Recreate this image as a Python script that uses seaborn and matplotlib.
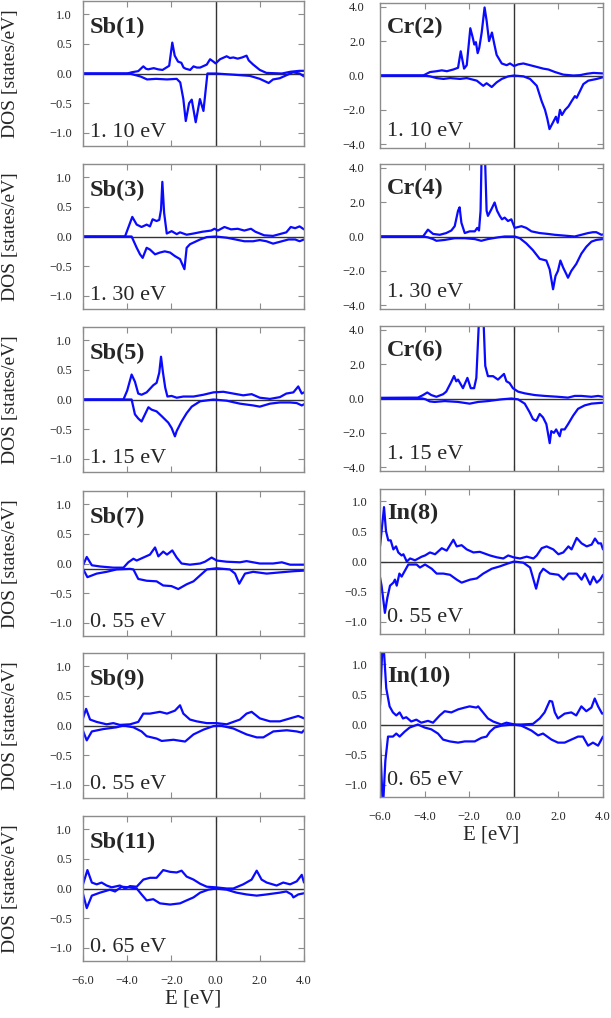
import matplotlib
matplotlib.use("Agg")
import matplotlib.pyplot as plt
import seaborn as sns

# ---- data: (E [eV], DOS [states/eV]) knots ----
sb1_up = [(-6.0, 0.0), (-4.0, 0.0), (-3.8, 0.02), (-3.5, 0.04), (-3.27, 0.12), (-3.15, 0.08), (-3.05, 0.07),
          (-2.8, 0.09), (-2.6, 0.07), (-2.4, 0.06), (-2.1, 0.13), (-1.96, 0.52), (-1.9, 0.4), (-1.85, 0.3),
          (-1.7, 0.2), (-1.55, 0.18), (-1.45, 0.1), (-1.35, 0.08), (-1.15, 0.06), (-1.0, 0.12), (-0.85, 0.1),
          (-0.7, 0.1), (-0.4, 0.15), (-0.25, 0.24), (-0.1, 0.2), (0.0, 0.17), (0.2, 0.24), (0.5, 0.29),
          (0.65, 0.26), (0.8, 0.27), (1.0, 0.25), (1.2, 0.27), (1.4, 0.3), (1.5, 0.22), (1.7, 0.15),
          (2.0, 0.06), (2.3, 0.01), (3.0, 0.0), (3.4, 0.03), (3.8, 0.045), (4.0, 0.045)]
sb1_dn = [(-6.0, 0.0), (-3.9, 0.0), (-3.4, -0.05), (-3.1, -0.1), (-2.7, -0.09), (-2.2, -0.1), (-1.76, -0.09),
          (-1.6, -0.15), (-1.46, -0.43), (-1.35, -0.8), (-1.2, -0.5), (-1.08, -0.44), (-0.9, -0.82),
          (-0.71, -0.43), (-0.55, -0.63), (-0.37, 0.0), (0.0, 0.0), (0.8, -0.02), (1.55, -0.04), (2.0, -0.09),
          (2.4, -0.16), (2.6, -0.1), (2.9, -0.08), (3.2, -0.03), (3.5, 0.02), (3.8, 0.0), (4.0, -0.05)]

sb3_up = [(-6.0, 0.0), (-4.1, 0.0), (-3.9, 0.2), (-3.77, 0.33), (-3.57, 0.2), (-3.35, 0.16), (-3.12, 0.2),
          (-2.97, 0.17), (-2.85, 0.29), (-2.67, 0.26), (-2.55, 0.28), (-2.47, 0.45), (-2.41, 0.92),
          (-2.33, 0.4), (-2.21, 0.05), (-1.99, 0.09), (-1.76, 0.04), (-1.61, 0.07), (-1.31, 0.03),
          (-1.0, 0.05), (-0.6, 0.08), (-0.2, 0.1), (-0.05, 0.13), (0.1, 0.1), (0.4, 0.16), (0.7, 0.12),
          (1.0, 0.13), (1.3, 0.1), (1.6, 0.13), (1.8, 0.08), (2.2, 0.02), (2.6, 0.01), (3.0, 0.05),
          (3.2, 0.07), (3.4, 0.16), (3.6, 0.14), (3.8, 0.17), (4.0, 0.12)]
sb3_dn = [(-6.0, 0.0), (-3.8, 0.0), (-3.57, -0.19), (-3.42, -0.3), (-3.3, -0.36), (-3.12, -0.19),
          (-2.97, -0.22), (-2.74, -0.3), (-2.52, -0.27), (-2.3, -0.25), (-2.06, -0.27), (-1.84, -0.33),
          (-1.61, -0.38), (-1.41, -0.55), (-1.31, -0.19), (-1.16, -0.13), (-0.93, -0.09), (-0.7, -0.05),
          (-0.4, -0.01), (0.0, 0.0), (0.5, -0.02), (0.9, -0.05), (1.3, -0.08), (1.7, -0.08), (2.0, -0.06),
          (2.3, -0.08), (2.6, -0.12), (3.0, -0.08), (3.3, -0.05), (3.6, -0.05), (3.8, -0.08), (4.0, -0.05)]

sb5_up = [(-6.0, 0.0), (-4.17, 0.0), (-4.0, 0.15), (-3.8, 0.42), (-3.65, 0.3), (-3.5, 0.1), (-3.35, 0.08),
          (-3.12, 0.12), (-2.82, 0.24), (-2.67, 0.28), (-2.55, 0.45), (-2.47, 0.72), (-2.38, 0.45),
          (-2.28, 0.2), (-2.18, 0.05), (-1.99, 0.06), (-1.76, 0.03), (-1.46, 0.05), (-1.0, 0.05),
          (-0.55, 0.08), (-0.1, 0.12), (0.35, 0.13), (0.8, 0.1), (1.25, 0.07), (1.63, 0.09), (2.0, 0.03),
          (2.46, 0.01), (2.91, 0.04), (3.2, 0.1), (3.52, 0.12), (3.74, 0.22), (3.9, 0.1), (4.0, 0.12)]
sb5_dn = [(-6.0, 0.0), (-3.8, 0.0), (-3.65, -0.25), (-3.5, -0.32), (-3.35, -0.37), (-3.04, -0.13),
          (-2.9, -0.17), (-2.67, -0.2), (-2.44, -0.28), (-2.14, -0.39), (-1.99, -0.48), (-1.84, -0.62),
          (-1.76, -0.53), (-1.54, -0.37), (-1.31, -0.23), (-1.08, -0.12), (-0.7, -0.03), (-0.1, 0.0),
          (0.5, -0.02), (1.1, -0.07), (1.7, -0.1), (2.0, -0.12), (2.46, -0.07), (2.91, -0.05), (3.37, -0.05),
          (3.67, -0.06), (3.9, -0.1), (4.0, -0.08)]

sb7_up = [(-6.0, -0.03), (-5.83, 0.11), (-5.6, -0.03), (-5.23, -0.05), (-4.63, -0.07), (-4.17, -0.07),
          (-3.95, 0.02), (-3.72, 0.08), (-3.57, 0.05), (-3.27, 0.1), (-2.97, 0.15), (-2.74, 0.27),
          (-2.59, 0.12), (-2.37, 0.2), (-2.2, 0.15), (-1.96, 0.22), (-1.76, 0.1), (-1.54, 0.0),
          (-1.16, -0.02), (-0.7, 0.0), (-0.48, 0.03), (-0.18, 0.1), (0.05, 0.05), (0.5, 0.03), (1.1, 0.02),
          (1.4, 0.04), (2.0, 0.0), (2.6, 0.0), (3.0, 0.02), (3.37, -0.02), (4.0, -0.02)]
sb7_dn = [(-6.0, -0.09), (-5.8, -0.23), (-5.38, -0.17), (-4.93, -0.14), (-4.48, -0.1), (-3.87, -0.09),
          (-3.72, -0.1), (-3.5, -0.26), (-3.12, -0.29), (-2.67, -0.3), (-2.37, -0.37), (-2.0, -0.38),
          (-1.69, -0.43), (-1.31, -0.35), (-1.0, -0.3), (-0.7, -0.2), (-0.4, -0.1), (0.05, -0.08),
          (0.65, -0.1), (0.88, -0.17), (1.07, -0.34), (1.33, -0.17), (1.7, -0.14), (2.31, -0.17),
          (2.9, -0.15), (3.52, -0.13), (4.0, -0.12)]

sb9_up = [(-6.0, 0.12), (-5.86, 0.28), (-5.68, 0.1), (-5.38, 0.06), (-4.93, 0.02), (-4.63, 0.04),
          (-4.33, 0.01), (-3.87, 0.02), (-3.5, 0.06), (-3.27, 0.2), (-2.97, 0.2), (-2.52, 0.23), (-2.2, 0.2),
          (-1.84, 0.25), (-1.61, 0.34), (-1.46, 0.2), (-1.16, 0.1), (-0.86, 0.07), (-0.4, 0.04), (0.05, 0.04),
          (0.5, 0.02), (1.1, 0.1), (1.4, 0.2), (1.63, 0.23), (2.0, 0.12), (2.46, 0.07), (2.91, 0.07),
          (3.37, 0.12), (3.74, 0.16), (4.0, 0.12)]
sb9_dn = [(-6.0, -0.09), (-5.83, -0.25), (-5.6, -0.1), (-5.08, -0.06), (-4.48, -0.03), (-4.17, 0.0),
          (-3.72, -0.03), (-3.35, -0.1), (-3.12, -0.18), (-2.67, -0.22), (-2.44, -0.26), (-1.91, -0.24),
          (-1.38, -0.27), (-1.0, -0.15), (-0.55, -0.07), (-0.1, -0.01), (0.2, 0.0), (0.8, -0.05), (1.4, -0.15),
          (1.86, -0.2), (2.16, -0.2), (2.61, -0.1), (3.22, -0.08), (3.67, -0.1), (3.9, -0.12), (4.0, -0.08)]

sb11_up = [(-6.0, 0.07), (-5.8, 0.31), (-5.6, 0.1), (-5.38, 0.07), (-5.16, 0.1), (-4.93, 0.05), (-4.7, 0.02),
           (-4.33, 0.05), (-4.1, 0.0), (-3.87, 0.04), (-3.57, 0.03), (-3.27, 0.15), (-2.97, 0.18),
           (-2.67, 0.18), (-2.37, 0.31), (-2.06, 0.28), (-1.76, 0.27), (-1.54, 0.3), (-1.31, 0.2), (-1.0, 0.15),
           (-0.7, 0.08), (-0.4, 0.03), (0.0, 0.02), (0.5, 0.0), (0.8, 0.0), (1.25, 0.07), (1.63, 0.15),
           (1.86, 0.3), (2.08, 0.15), (2.31, 0.1), (2.76, 0.05), (3.06, 0.1), (3.37, 0.07), (3.67, 0.12),
           (3.9, 0.23), (4.0, 0.1)]
sb11_dn = [(-6.0, -0.09), (-5.83, -0.33), (-5.6, -0.12), (-5.23, -0.07), (-4.78, -0.02), (-4.55, -0.05),
           (-4.25, 0.03), (-3.95, 0.02), (-3.57, 0.0), (-3.35, -0.1), (-3.12, -0.2), (-2.82, -0.18),
           (-2.52, -0.25), (-2.06, -0.27), (-1.61, -0.25), (-1.31, -0.2), (-1.0, -0.15), (-0.7, -0.07),
           (-0.33, -0.02), (0.0, 0.0), (0.5, -0.02), (0.95, -0.07), (1.4, -0.1), (1.86, -0.12), (2.31, -0.1),
           (2.9, -0.07), (3.2, -0.05), (3.44, -0.1), (3.52, -0.15), (3.74, -0.1), (4.0, -0.08)]

cr2_up = [(-6.0, 0.0), (-4.06, 0.0), (-3.76, 0.2), (-3.46, 0.25), (-3.23, 0.3), (-3.0, 0.25), (-2.71, 0.35),
          (-2.5, 0.45), (-2.38, 1.41), (-2.23, 0.4), (-2.11, 0.6), (-1.95, 2.75), (-1.84, 2.2), (-1.77, 1.8),
          (-1.7, 1.94), (-1.62, 1.3), (-1.55, 1.6), (-1.44, 2.5), (-1.31, 3.96), (-1.22, 3.2), (-1.11, 2.0),
          (-0.98, 2.5), (-0.87, 1.8), (-0.77, 1.2), (-0.54, 0.7), (-0.32, 0.6), (-0.17, 0.7), (0.01, 0.55),
          (0.2, 0.65), (0.43, 0.7), (0.73, 0.6), (1.03, 0.5), (1.32, 0.4), (1.55, 0.35), (1.85, 0.2),
          (2.22, 0.05), (2.67, 0.0), (2.97, 0.02), (3.27, 0.1), (3.57, 0.15), (4.0, 0.12)]
cr2_dn = [(-6.0, 0.0), (-4.06, 0.0), (-3.76, -0.05), (-3.46, -0.15), (-3.16, -0.2), (-2.86, -0.15),
          (-2.41, -0.2), (-2.11, -0.15), (-1.66, -0.3), (-1.37, -0.6), (-1.22, -0.45), (-0.99, -0.67),
          (-0.77, -0.4), (-0.54, -0.2), (-0.25, -0.05), (0.01, 0.0), (0.43, -0.05), (0.73, -0.2), (1.03, -0.6),
          (1.25, -1.5), (1.4, -2.0), (1.5, -2.5), (1.6, -3.12), (1.77, -2.7), (1.89, -2.4), (1.97, -2.75),
          (2.07, -2.0), (2.16, -2.3), (2.3, -2.0), (2.45, -1.8), (2.59, -1.5), (2.74, -1.2), (2.82, -1.3),
          (2.97, -0.9), (3.12, -0.5), (3.34, -0.3), (3.72, -0.2), (4.0, -0.1)]

cr4_up = [(-6.0, 0.0), (-4.07, 0.0), (-3.85, 0.4), (-3.62, 0.15), (-3.32, 0.1), (-3.03, 0.2), (-2.8, 0.35),
          (-2.65, 0.6), (-2.5, 1.5), (-2.43, 1.7), (-2.35, 0.8), (-2.2, 0.2), (-1.98, 0.3), (-1.75, 0.3),
          (-1.64, 0.5), (-1.56, 0.35), (-1.49, 1.5), (-1.44, 5.0), (-1.3, 5.0), (-1.22, 1.5), (-1.16, 1.2),
          (-1.0, 1.6), (-0.86, 1.98), (-0.75, 1.5), (-0.63, 1.2), (-0.53, 1.0), (-0.41, 1.1), (-0.26, 0.9),
          (-0.11, 1.0), (0.04, 0.5), (0.34, 0.6), (0.56, 0.5), (0.79, 0.3), (1.16, 0.2), (1.53, 0.15),
          (1.83, 0.1), (2.28, 0.05), (2.73, 0.0), (3.03, 0.1), (3.33, 0.2), (3.55, 0.25), (3.7, 0.25),
          (3.93, 0.1), (4.0, 0.12)]
cr4_dn = [(-6.0, 0.0), (-4.07, 0.0), (-3.85, -0.05), (-3.62, -0.15), (-3.47, -0.25), (-3.1, -0.2),
          (-2.65, -0.1), (-2.2, -0.1), (-1.75, -0.15), (-1.46, -0.25), (-1.16, -0.15), (-0.71, -0.05),
          (-0.41, 0.0), (0.04, 0.0), (0.27, -0.1), (0.56, -0.4), (0.86, -0.8), (1.16, -1.3), (1.46, -1.4),
          (1.61, -1.92), (1.76, -3.07), (1.87, -2.3), (1.98, -2.0), (2.09, -1.4), (2.21, -1.8), (2.36, -2.2),
          (2.43, -2.4), (2.58, -2.0), (2.8, -1.6), (3.03, -1.0), (3.25, -0.6), (3.48, -0.3), (3.7, -0.2),
          (4.0, -0.15)]

cr6_up = [(-6.0, 0.04), (-4.6, 0.05), (-4.3, 0.05), (-4.07, 0.2), (-3.88, 0.35), (-3.7, 0.2), (-3.47, 0.1),
          (-3.17, 0.25), (-3.03, 0.4), (-2.83, 0.9), (-2.68, 1.31), (-2.58, 1.0), (-2.5, 1.1), (-2.28, 0.6),
          (-2.08, 1.2), (-1.93, 0.6), (-1.78, 0.6), (-1.68, 1.2), (-1.56, 4.6), (-1.36, 4.6), (-1.28, 1.9),
          (-1.16, 1.3), (-0.93, 1.3), (-0.71, 1.1), (-0.44, 1.43), (-0.33, 1.0), (-0.19, 0.9), (-0.04, 0.6),
          (0.19, 0.4), (0.49, 0.3), (0.94, 0.2), (1.38, 0.15), (1.98, 0.1), (2.43, 0.05), (2.73, 0.15),
          (3.03, 0.15), (3.48, 0.1), (3.78, 0.15), (4.0, 0.1)]
cr6_dn = [(-6.0, 0.0), (-4.1, 0.0), (-3.95, -0.05), (-3.77, -0.17), (-3.55, -0.2), (-3.1, -0.15),
          (-2.5, -0.2), (-1.98, -0.3), (-1.6, -0.2), (-1.16, -0.15), (-0.56, -0.05), (-0.11, 0.0),
          (0.19, -0.05), (0.49, -0.3), (0.71, -0.8), (0.86, -1.2), (1.01, -1.3), (1.16, -0.9), (1.31, -1.1),
          (1.46, -1.49), (1.53, -2.0), (1.61, -2.6), (1.68, -1.9), (1.8, -2.0), (1.9, -1.8), (2.06, -2.2),
          (2.13, -1.8), (2.28, -1.8), (2.43, -1.5), (2.66, -1.0), (2.88, -0.6), (3.18, -0.4), (3.48, -0.3),
          (3.93, -0.25), (4.0, -0.25)]

in8_up = [(-6.0, 0.25), (-5.93, 0.5), (-5.82, 0.9), (-5.73, 0.5), (-5.63, 0.35), (-5.52, 0.35), (-5.4, 0.2),
          (-5.28, 0.25), (-5.18, 0.15), (-5.03, 0.1), (-4.95, 0.12), (-4.8, 0.0), (-4.65, 0.05), (-4.43, 0.02),
          (-4.13, 0.08), (-3.98, 0.1), (-3.76, 0.15), (-3.53, 0.12), (-3.23, 0.22), (-3.01, 0.18),
          (-2.71, 0.36), (-2.56, 0.25), (-2.34, 0.27), (-2.11, 0.2), (-1.81, 0.15), (-1.52, 0.16),
          (-1.07, 0.1), (-0.77, 0.07), (-0.47, 0.05), (-0.25, 0.1), (-0.02, 0.07), (0.28, 0.05), (0.58, 0.08),
          (0.88, 0.05), (1.03, 0.1), (1.25, 0.22), (1.47, 0.25), (1.77, 0.2), (2.0, 0.12), (2.22, 0.15),
          (2.45, 0.25), (2.59, 0.2), (2.82, 0.39), (3.04, 0.3), (3.27, 0.25), (3.49, 0.28), (3.64, 0.38),
          (3.79, 0.3), (3.91, 0.3), (4.0, 0.2)]
in8_dn = [(-6.0, -0.26), (-5.93, -0.4), (-5.78, -0.85), (-5.67, -0.6), (-5.55, -0.4), (-5.4, -0.35),
          (-5.33, -0.3), (-5.25, -0.4), (-5.13, -0.2), (-5.03, -0.25), (-4.88, -0.15), (-4.73, -0.05),
          (-4.36, -0.05), (-4.21, -0.1), (-3.98, -0.05), (-3.68, -0.12), (-3.46, -0.2), (-3.16, -0.2),
          (-2.86, -0.22), (-2.56, -0.3), (-2.34, -0.35), (-1.96, -0.3), (-1.66, -0.28), (-1.37, -0.2),
          (-0.99, -0.12), (-0.62, -0.08), (-0.32, -0.04), (0.01, 0.0), (0.43, -0.02), (0.73, -0.1),
          (1.0, -0.45), (1.17, -0.2), (1.32, -0.12), (1.62, -0.2), (2.0, -0.22), (2.22, -0.3), (2.45, -0.2),
          (2.82, -0.2), (3.04, -0.3), (3.19, -0.2), (3.42, -0.38), (3.57, -0.25), (3.72, -0.35), (3.87, -0.3),
          (4.0, -0.22)]

in10_up = [(-6.0, 0.32), (-5.87, 1.5), (-5.72, 0.6), (-5.57, 0.3), (-5.42, 0.2), (-5.27, 0.15), (-5.12, 0.2),
           (-4.97, 0.1), (-4.82, 0.12), (-4.6, 0.05), (-4.37, 0.08), (-4.15, 0.03), (-3.85, 0.06), (-3.62, 0.03),
           (-3.32, 0.15), (-3.1, 0.22), (-2.8, 0.2), (-2.5, 0.25), (-2.2, 0.28), (-1.98, 0.3), (-1.68, 0.28),
           (-1.6, 0.3), (-1.38, 0.2), (-1.16, 0.1), (-0.93, 0.05), (-0.56, 0.0), (-0.33, 0.03), (0.04, 0.0),
           (0.34, 0.0), (0.86, 0.01), (1.16, 0.1), (1.38, 0.2), (1.61, 0.39), (1.72, 0.38), (1.84, 0.2),
           (1.98, 0.1), (2.28, 0.18), (2.58, 0.2), (2.8, 0.15), (3.03, 0.3), (3.25, 0.22), (3.48, 0.28),
           (3.63, 0.43), (3.78, 0.3), (3.96, 0.18), (4.0, 0.18)]
in10_dn = [(-6.0, -0.23), (-5.87, -1.4), (-5.76, -0.6), (-5.64, -0.2), (-5.42, -0.2), (-5.27, -0.15),
           (-5.12, -0.2), (-4.9, -0.12), (-4.67, -0.05), (-4.45, -0.02), (-4.3, 0.0), (-4.0, -0.05),
           (-3.7, -0.08), (-3.4, -0.15), (-3.17, -0.25), (-2.87, -0.28), (-2.5, -0.3), (-2.2, -0.28),
           (-1.75, -0.28), (-1.45, -0.22), (-1.22, -0.2), (-1.07, -0.12), (-0.86, -0.05), (-0.56, -0.02),
           (-0.04, 0.0), (0.34, -0.02), (0.79, -0.1), (1.09, -0.18), (1.31, -0.15), (1.69, -0.25),
           (1.98, -0.3), (2.28, -0.3), (2.58, -0.25), (2.88, -0.2), (3.1, -0.2), (3.33, -0.35), (3.55, -0.3),
           (3.78, -0.35), (4.0, -0.2)]

left_names = ["Sb(1)", "Sb(3)", "Sb(5)", "Sb(7)", "Sb(9)", "Sb(11)"]
left_gaps = ["1. 10 eV", "1. 30 eV", "1. 15 eV", "0. 55 eV", "0. 55 eV", "0. 65 eV"]
left_series = [(sb1_up, sb1_dn), (sb3_up, sb3_dn), (sb5_up, sb5_dn),
               (sb7_up, sb7_dn), (sb9_up, sb9_dn), (sb11_up, sb11_dn)]
left_zero = [0.0, 0.0, 0.0, -0.085, 0.0, 0.0]

right_names = ["Cr(2)", "Cr(4)", "Cr(6)", "In(8)", "In(10)"]
right_gaps = ["1. 10 eV", "1. 30 eV", "1. 15 eV", "0. 55 eV", "0. 65 eV"]
right_series = [(cr2_up, cr2_dn), (cr4_up, cr4_dn), (cr6_up, cr6_dn),
                (in8_up, in8_dn), (in10_up, in10_dn)]

x_ticks = [-6.0, -4.0, -2.0, 0.0, 2.0, 4.0]
sb_ticks = [-1.0, -0.5, 0.0, 0.5, 1.0]
cr_ticks = [-4.0, -2.0, 0.0, 2.0, 4.0]

# ---- style ----
sns.set_style("ticks")
plt.rcParams["font.family"] = ["Liberation Serif", "DejaVu Serif"]
BLUE = "#0a0aff"
FRAME = "0.55"

W, H = 611, 1018
fig = plt.figure(figsize=(W / 100, H / 100), dpi=100)


def fmt(v):
    return f"{v:.1f}".replace("-", "\u2212")


def panel(x0, top, width, series, name, gap, ylim, yticks, zero, show_x, show_ylab,
          name_y, gap_y, ypad):
    h = 145
    ax = fig.add_axes([x0 / W, 1 - (top + h) / H, width / W, h / H])
    ax.axhline(zero, color="0.2", lw=1.0, zorder=1)
    ax.axvline(0.0, color="0.2", lw=1.0, zorder=1)
    for pts in series:
        e = [p[0] for p in pts]
        d = [p[1] for p in pts]
        sns.lineplot(x=e, y=d, ax=ax, color=BLUE, linewidth=1.6,
                     estimator=None, sort=False, legend=False, zorder=2)
    ax.set_xlim(-6.0, 4.0)
    ax.set_ylim(-ylim, ylim)
    ax.set_xticks(x_ticks)
    ax.set_yticks(yticks)
    ax.set_yticklabels([fmt(v) for v in yticks])
    ax.set_xticklabels([fmt(v) for v in x_ticks])
    ax.tick_params(direction="in", top=True, right=True, length=4, width=0.8,
                   color=FRAME, labelsize=9)
    ax.tick_params(axis="y", pad=ypad)
    ax.tick_params(axis="x", labelbottom=show_x, pad=10)
    for sp in ax.spines.values():
        sp.set_color(FRAME)
        sp.set_linewidth(1.0)
    ax.set_xlabel("E [eV]" if show_x else "", fontsize=15, labelpad=2)
    ax.set_ylabel("DOS [states/eV]" if show_ylab else "", fontsize=14)
    if show_ylab:
        ax.yaxis.set_label_coords(-0.29, 0.5)
    ax.text(0.03, name_y, name, transform=ax.transAxes, fontsize=17.5,
            fontweight="bold", va="baseline", ha="left")
    ax.text(0.03, gap_y, gap, transform=ax.transAxes, fontsize=16,
            va="baseline", ha="left")
    return ax


left_tops = [1, 164, 327, 491, 653, 816]
right_tops = [3, 164, 326, 489, 652]

for i in range(6):
    panel(83, left_tops[i], 221, left_series[i], left_names[i], left_gaps[i],
          1.22, sb_ticks, left_zero[i], i == 5, True, 0.78, 0.065, 8)

for i in range(5):
    is_cr = i < 3
    panel(380, right_tops[i], 223, right_series[i], right_names[i], right_gaps[i],
          4.22 if is_cr else 1.2, cr_ticks if is_cr else sb_ticks, 0.0,
          i == 4, False, 0.79, 0.085, 11 if is_cr else 9)

fig.savefig("out.png", dpi=100)
